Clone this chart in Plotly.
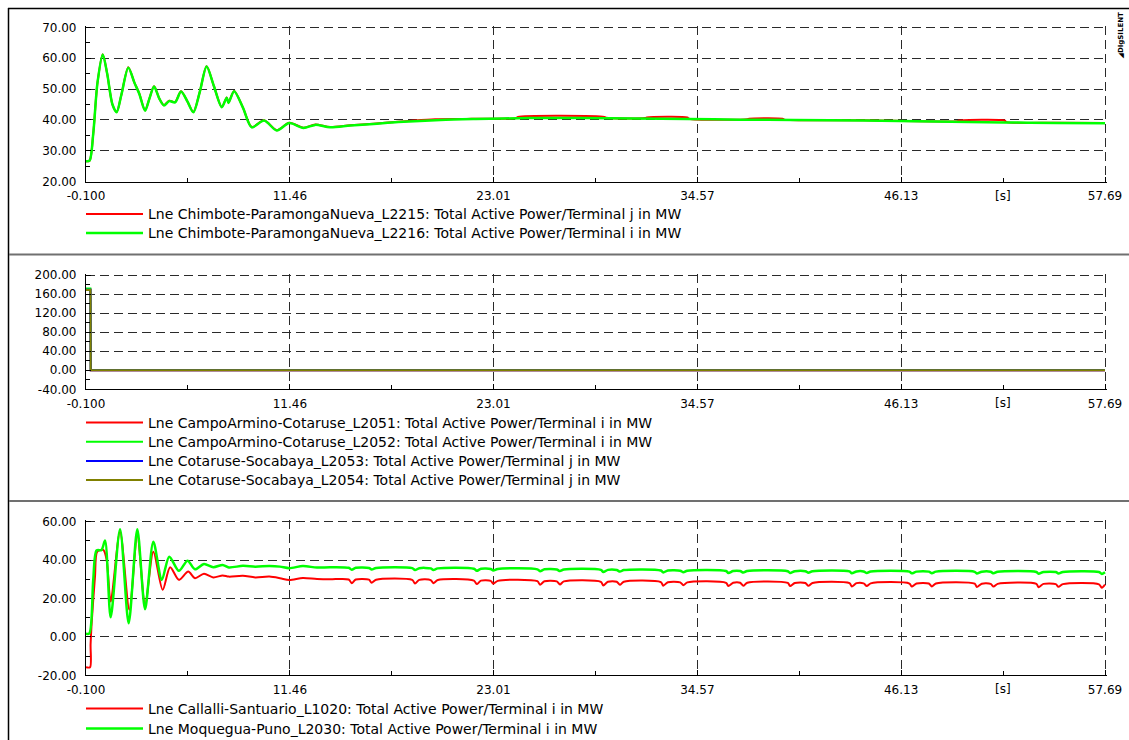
import plotly.graph_objects as go

# ---------------- data ----------------
x_tick_vals = [-0.100, 11.46, 23.01, 34.57, 46.13, 57.69]
x_tick_text = ["-0.100", "11.46", "23.01", "34.57", "46.13", "57.69"]
x_minor_vals = [5.68, 17.235, 28.79, 40.35, 51.91]
x_unit_label = "[s]"

y1_ticks = [20, 30, 40, 50, 60, 70]
y2_ticks = [-40, 0, 40, 80, 120, 160, 200]
y3_ticks = [-20, 0, 20, 40, 60]

# Panel 1
p1_names = [
    "Lne Chimbote-ParamongaNueva_L2215: Total Active Power/Terminal j in MW",
    "Lne Chimbote-ParamongaNueva_L2216: Total Active Power/Terminal i in MW",
]
p1_green_t = [-0.1, 0.1, 0.31, 0.55, 0.85, 1.1, 1.4, 1.64, 1.9, 2.3, 2.65, 2.92, 3.25, 3.5,
              3.76, 4.05, 4.32, 4.62, 4.95, 5.29, 5.65, 5.99, 6.35, 6.74, 7.15, 7.6, 7.88,
              7.98, 8.3, 8.8, 9.3, 10.0, 10.72, 11.43, 12.23, 12.9, 13.74, 14.9, 16.2, 17.6,
              20.0, 22.0, 25.0, 28.0, 31.0, 34.0, 37.0, 40.0, 44.0, 48.0, 52.0, 55.0, 57.69]
p1_green_v = [26.6, 26.8, 35.5, 52.0, 61.2, 55.0, 45.0, 42.5, 48.0, 56.9, 52.0, 48.5, 43.0, 47.0,
              50.8, 47.0, 44.7, 46.1, 45.7, 49.2, 46.0, 42.5, 49.0, 57.3, 51.0, 44.1, 47.2,
              45.5, 49.3, 44.0, 37.6, 39.8, 36.6, 39.0, 37.4, 38.4, 37.6, 38.2, 38.7, 39.3,
              40.0, 40.3, 40.6, 40.6, 40.5, 40.3, 40.1, 40.0, 39.8, 39.5, 39.2, 39.0, 38.9]
p1_red_t = [-0.1, 0.1, 0.31, 0.55, 0.85, 1.1, 1.4, 1.64, 1.9, 2.3, 2.65, 2.92, 3.25, 3.5,
            3.76, 4.05, 4.32, 4.62, 4.95, 5.29, 5.65, 5.99, 6.35, 6.74, 7.15, 7.6, 7.88,
            7.98, 8.3, 8.8, 9.3, 10.0, 10.72, 11.43, 12.23, 12.9, 13.74, 14.9, 16.2, 17.6,
            18.5, 19.7, 21.5, 22.0, 24.3, 24.4, 29.3, 29.4, 31.6, 31.7, 34.0, 34.1, 37.4,
            37.5, 39.4, 39.5, 44.0, 49.3, 49.4, 52.0, 52.1, 55.0, 57.69]
p1_red_v = [26.6, 26.8, 35.5, 52.0, 61.3, 55.0, 45.0, 42.6, 48.0, 57.1, 52.0, 48.6, 43.1, 47.0,
            50.9, 47.0, 44.8, 46.2, 45.8, 49.3, 46.0, 42.6, 49.0, 57.4, 51.0, 44.2, 47.3,
            45.6, 49.4, 44.0, 37.7, 39.9, 36.7, 39.1, 37.5, 38.5, 37.7, 38.3, 38.8, 39.4,
            39.8, 40.2, 40.3, 40.4, 40.6, 41.0, 41.0, 40.7, 40.6, 40.8, 40.8, 40.4, 40.2,
            40.4, 40.4, 40.1, 39.9, 39.6, 39.8, 39.8, 39.3, 39.1, 39.0]

# Panel 2
p2_names = [
    "Lne CampoArmino-Cotaruse_L2051: Total Active Power/Terminal i in MW",
    "Lne CampoArmino-Cotaruse_L2052: Total Active Power/Terminal i in MW",
    "Lne Cotaruse-Socabaya_L2053: Total Active Power/Terminal j in MW",
    "Lne Cotaruse-Socabaya_L2054: Total Active Power/Terminal j in MW",
]
p2_t = [-0.1, 0.15, 0.17, 57.69]
p2_red_v = [170.0, 170.0, 0.0, 0.0]
p2_green_v = [171.5, 171.5, 0.4, 0.4]
p2_blue_v = [169.0, 169.0, 0.0, 0.0]
p2_olive_v = [168.5, 168.5, 0.0, 0.0]

# Panel 3
p3_names = [
    "Lne Callalli-Santuario_L1020: Total Active Power/Terminal i in MW",
    "Lne Moquegua-Puno_L2030: Total Active Power/Terminal i in MW",
]
p3_red_t = [-0.1, 0.13, 0.16, 0.22, 0.41, 0.54, 0.88, 1.07, 1.3, 1.83, 2.36, 2.81, 3.25, 3.72,
            4.25, 4.67, 5.17, 5.7, 6.08, 6.59, 7.12, 7.65, 8.0, 8.8, 9.5, 10.3, 10.9, 11.43,
            12.2, 13.0, 13.74,
            14.8, 14.97, 15.2, 15.95, 16.1, 16.35, 18.4, 18.56, 18.8, 19.45, 19.6, 19.85,
            21.9, 22.06, 22.3, 22.85, 23.0, 23.25, 25.5, 25.65, 25.9, 26.6, 26.78, 27.0,
            29.1, 29.24, 29.5, 30.0, 30.18, 30.4, 32.5, 32.64, 32.9, 33.6, 33.78, 34.0,
            36.2, 36.33, 36.6, 37.0, 37.18, 37.4, 39.7, 39.83, 40.1, 40.7, 40.87, 41.1,
            43.2, 43.33, 43.6, 44.0, 44.18, 44.4, 46.6, 46.73, 47.0, 47.7, 47.87, 48.1,
            50.3, 50.42, 50.7, 51.2, 51.37, 51.6, 53.8, 53.92, 54.2, 54.9, 55.05, 55.3,
            57.35, 57.51, 57.69]
p3_red_v = [-15.8, -15.8, -4.0, 7.1, 31.4, 44.4, 45.3, 40.1, 18.4, 54.8, 14.1, 53.1, 16.7, 44.4,
            24.5, 36.3, 29.7, 34.0, 30.6, 32.9, 31.0, 32.0, 31.4, 31.8, 31.0, 31.4, 30.6, 29.6,
            30.7, 30.1, 30.0,
            29.9, 28.0, 29.9, 29.8, 28.2, 29.8, 29.7, 27.8, 29.7, 29.6, 28.0, 29.6,
            29.3, 27.5, 29.3, 29.2, 27.7, 29.2, 29.0, 27.2, 29.0, 28.9, 27.3, 28.9,
            28.7, 26.8, 28.7, 28.7, 27.1, 28.7, 28.5, 26.7, 28.5, 28.4, 26.9, 28.4,
            28.2, 26.5, 28.2, 28.2, 26.6, 28.2, 28.1, 26.5, 28.1, 28.1, 26.6, 28.1,
            28.0, 26.3, 28.0, 27.9, 26.5, 27.9, 27.8, 26.2, 27.8, 27.8, 26.3, 27.8,
            27.7, 26.0, 27.7, 27.6, 26.2, 27.6, 27.6, 25.9, 27.6, 27.5, 26.1, 27.5,
            27.4, 25.6, 27.2]
p3_green_t = [-0.1, 0.09, 0.31, 0.5, 0.78, 0.98, 1.3, 1.83, 2.32, 2.81, 3.25, 3.72, 4.2, 4.62,
              5.17, 5.66, 6.08, 6.59, 7.12, 7.65, 8.0, 8.8, 9.5, 10.3, 10.9, 11.43, 12.2,
              13.0, 13.74,
              14.8, 14.97, 15.2, 15.95, 16.1, 16.35, 18.4, 18.56, 18.8, 19.45, 19.6, 19.85,
              21.9, 22.06, 22.3, 22.85, 23.0, 23.25, 25.5, 25.65, 25.9, 26.6, 26.78, 27.0,
              29.1, 29.24, 29.5, 30.0, 30.18, 30.4, 32.5, 32.64, 32.9, 33.6, 33.78, 34.0,
              36.2, 36.33, 36.6, 37.0, 37.18, 37.4, 39.7, 39.83, 40.1, 40.7, 40.87, 41.1,
              43.2, 43.33, 43.6, 44.0, 44.18, 44.4, 46.6, 46.73, 47.0, 47.7, 47.87, 48.1,
              50.3, 50.42, 50.7, 51.2, 51.37, 51.6, 53.8, 53.92, 54.2, 54.9, 55.05, 55.3,
              57.35, 57.51, 57.69]
p3_green_v = [1.6, 1.8, 29.7, 45.0, 45.3, 50.2, 10.2, 56.1, 7.1, 56.1, 14.4, 49.6, 29.7, 41.8,
              34.4, 39.7, 35.2, 38.0, 36.3, 37.5, 36.2, 37.0, 36.6, 36.9, 36.6, 35.8, 36.9,
              36.1, 36.3,
              36.0, 35.0, 36.0, 35.9, 35.1, 35.9, 35.8, 34.8, 35.8, 35.7, 34.9, 35.7,
              35.5, 34.4, 35.5, 35.4, 34.6, 35.4, 35.2, 34.2, 35.2, 35.1, 34.3, 35.1,
              34.9, 33.8, 34.9, 34.8, 34.0, 34.8, 34.6, 33.6, 34.6, 34.5, 33.7, 34.5,
              34.3, 33.3, 34.3, 34.3, 33.5, 34.3, 34.2, 33.3, 34.2, 34.2, 33.4, 34.2,
              34.1, 33.1, 34.1, 34.1, 33.3, 34.1, 34.0, 33.1, 34.0, 34.0, 33.2, 34.0,
              33.9, 33.0, 33.9, 33.9, 33.1, 33.9, 33.8, 32.9, 33.8, 33.8, 33.0, 33.8,
              33.8, 32.8, 33.7]

# ---------------- figure ----------------
W, H = 1129, 740
FONT = "DejaVu Sans, Arial, sans-serif"
RED, GREEN, BLUE, OLIVE = "#ff0000", "#00ff00", "#0000ff", "#808000"
LEG_FS = 14

fig = go.Figure()
legend_rows = []   # (legend id, centre pixel y)

def add(t, v, name, color, width, xa, ya, row_y, shape="spline"):
    lid = "legend" if not legend_rows else "legend%d" % (len(legend_rows) + 1)
    legend_rows.append((lid, row_y))
    fig.add_trace(go.Scatter(
        x=t, y=v, name=name, mode="lines",
        line=dict(color=color, width=width, shape=shape, smoothing=0.8),
        xaxis=xa, yaxis=ya, legend=lid))

add(p1_red_t, p1_red_v, p1_names[0], RED, 2, "x", "y", 214)
add(p1_green_t, p1_green_v, p1_names[1], GREEN, 2.5, "x", "y", 233)
add(p2_t, p2_red_v, p2_names[0], RED, 2, "x2", "y2", 422.5, "linear")
add(p2_t, p2_green_v, p2_names[1], GREEN, 2, "x2", "y2", 441.7, "linear")
add(p2_t, p2_blue_v, p2_names[2], BLUE, 2, "x2", "y2", 461, "linear")
add(p2_t, p2_olive_v, p2_names[3], OLIVE, 2, "x2", "y2", 480, "linear")
add(p3_red_t, p3_red_v, p3_names[0], RED, 2, "x3", "y3", 708.5)
add(p3_green_t, p3_green_v, p3_names[1], GREEN, 2.5, "x3", "y3", 728.5)

PAD = 1.5  # px of room so edge gridlines are not clipped
x_left_px, x_right_px = 86.0, 1105.0
x_scale = (x_right_px - x_left_px) / (x_tick_vals[-1] - x_tick_vals[0])
XD = [x_left_px / W, (x_right_px + PAD) / W]
XR = [x_tick_vals[0], x_tick_vals[-1] + PAD / x_scale]

panels = [(181.7, 27.3, y1_ticks, 5), (389.3, 275.0, y2_ticks, 20), (675.3, 521.7, y3_ticks, 10)]
grid = dict(showgrid=True, gridcolor="#2a2a2a", gridwidth=1, griddash="9px,5px")
tickfont = dict(family=FONT, size=12, color="black")

for i, (pb, pt, yt, ymin) in enumerate(panels, start=1):
    sx = "" if i == 1 else str(i)
    y_scale = (pb - pt) / (yt[-1] - yt[0])
    fig.layout["xaxis" + sx] = dict(
        domain=XD, anchor="y" + sx, range=XR, automargin=False,
        tickmode="array", tickvals=x_tick_vals, ticktext=x_tick_text,
        ticks="inside", ticklen=5, tickcolor="black",
        minor=dict(tickvals=x_minor_vals, ticks="inside", ticklen=4, tickcolor="black", showgrid=False),
        showline=True, linecolor="black", linewidth=1.2, zeroline=False,
        tickfont=tickfont, ticklabelstandoff=3, **grid)
    fig.layout["yaxis" + sx] = dict(
        domain=[1 - pb / H, 1 - (pt - PAD) / H], anchor="x" + sx,
        range=[yt[0], yt[-1] + PAD / y_scale], automargin=False,
        tickmode="array", tickvals=yt, ticktext=["%.2f" % v for v in yt],
        ticks="inside", ticklen=5, tickcolor="black",
        minor=dict(tick0=yt[0], dtick=ymin, ticks="inside", ticklen=4, tickcolor="black", showgrid=False),
        showline=True, linecolor="black", linewidth=1.2, zeroline=False,
        tickfont=tickfont, ticklabelstandoff=6, **grid)
    fig.add_annotation(x=x_minor_vals[-1], xref="x" + sx, y=1 - pb / H, yref="paper",
                       yanchor="top", yshift=-5, text=x_unit_label, showarrow=False,
                       font=tickfont)

# one legend box per entry so rows sit where the reference has them
item_h = 1.3 * LEG_FS + 3
for lid, cy in legend_rows:
    fig.layout[lid] = dict(x=81 / W, y=1 - (cy - item_h / 2 - 5) / H, xanchor="left", yanchor="top",
                           bgcolor="rgba(0,0,0,0)", itemwidth=57,
                           font=dict(family=FONT, size=LEG_FS, color="black"))

# frame
shapes = [
    dict(type="line", xref="paper", yref="paper", x0=8.5 / W, x1=8.5 / W, y0=0, y1=1 - 8 / H,
         line=dict(color="black", width=1.5)),
    dict(type="line", xref="paper", yref="paper", x0=8 / W, x1=1, y0=1 - 8.5 / H, y1=1 - 8.5 / H,
         line=dict(color="black", width=1.5)),
    dict(type="line", xref="paper", yref="paper", x0=9 / W, x1=1, y0=1 - 254.5 / H, y1=1 - 254.5 / H,
         line=dict(color="#707070", width=2)),
    dict(type="line", xref="paper", yref="paper", x0=9 / W, x1=1, y0=1 - 501 / H, y1=1 - 501 / H,
         line=dict(color="#707070", width=2)),
]
fig.update_layout(shapes=shapes)
fig.add_annotation(x=1121 / W, y=1 - 10 / H, xref="paper", yref="paper", text="<b>◢DIgSILENT</b>",
                   xanchor="center", yanchor="top",
                   textangle=-90, showarrow=False, font=dict(family=FONT, size=7, color="black"))

fig.update_layout(width=W, height=H, margin=dict(l=0, r=0, t=0, b=0, autoexpand=False),
                  paper_bgcolor="white", plot_bgcolor="white", showlegend=True)

fig.write_html("out.html", post_script="document.body.style.margin='0';document.body.style.overflow='hidden';")
